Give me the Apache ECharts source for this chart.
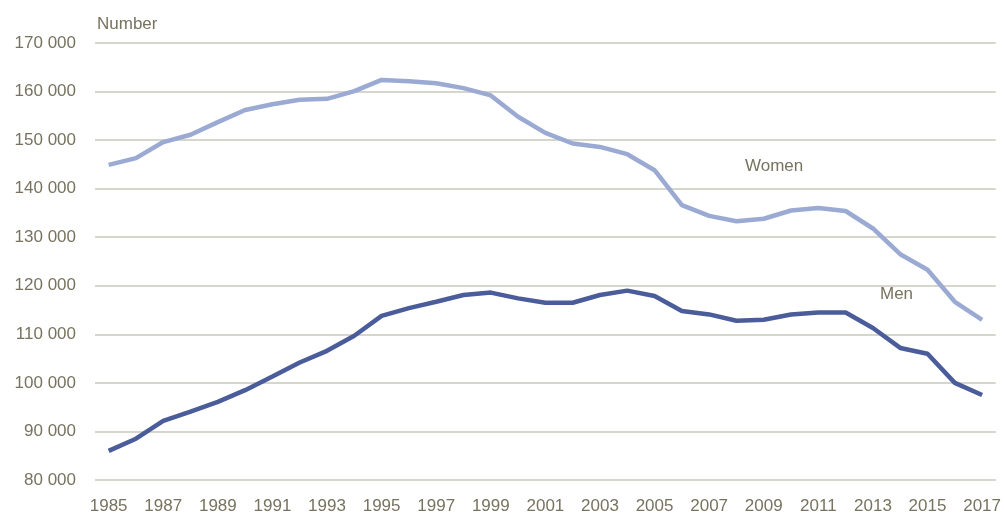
<!DOCTYPE html>
<html>
<head>
<meta charset="utf-8">
<script src="https://cdn.jsdelivr.net/npm/echarts@6/dist/echarts.min.js"></script>
<style>
  html, body { margin: 0; padding: 0; background: #fff; }
  #chart { width: 1004px; height: 515px; }
</style>
</head>
<body>
<div id="chart"></div>
<script>
var years = [];
for (var y = 1985; y <= 2017; y++) years.push(String(y));

var women = [144900, 146300, 149600, 151100, 153700, 156200, 157400, 158300, 158500, 160100,
  162400, 162100, 161700, 160700, 159200, 154800, 151500, 149300, 148600, 147100,
  143800, 136600, 134400, 133300, 133800, 135500, 136000, 135400, 131800, 126500,
  123300, 116700, 113000];

var men = [86000, 88500, 92200, 94100, 96100, 98500, 101300, 104200, 106600, 109700,
  113800, 115400, 116700, 118100, 118600, 117400, 116500, 116500, 118100, 119000,
  117900, 114800, 114100, 112800, 113000, 114100, 114500, 114500, 111300, 107200,
  106000, 100000, 97500];

var textColor = "#77735f";
var font = "Liberation Sans, Arial, sans-serif";

function fmt(v) {
  return String(v).replace(/\B(?=(\d{3})+(?!\d))/g, " ");
}

var chart = echarts.init(document.getElementById("chart"));
chart.setOption({
  animation: false,
  grid: { left: 95, right: 7, top: 43, bottom: 35 },
  xAxis: {
    type: "category",
    data: years,
    boundaryGap: true,
    axisLine: { show: false },
    axisTick: { show: false },
    axisLabel: {
      interval: 1,
      color: textColor,
      fontSize: 17,
      fontFamily: font,
      margin: 18
    }
  },
  yAxis: {
    type: "value",
    min: 80000,
    max: 170000,
    interval: 10000,
    axisLine: { show: false },
    axisTick: { show: false },
    splitLine: { lineStyle: { color: "#c9c9bb", width: 1.5 } },
    axisLabel: {
      color: textColor,
      fontSize: 17,
      fontFamily: font,
      margin: 19,
      formatter: fmt
    }
  },
  series: [
    {
      name: "Women",
      type: "line",
      data: women,
      symbol: "none",
      lineStyle: { color: "#9aaad2", width: 4.5 }
    },
    {
      name: "Men",
      type: "line",
      data: men,
      symbol: "none",
      lineStyle: { color: "#4a5c9a", width: 4.5 }
    }
  ],
  graphic: [
    { type: "text", left: 97, top: 16, style: { text: "Number", fill: textColor, font: "17px " + font } },
    { type: "text", left: 745, top: 158, style: { text: "Women", fill: textColor, font: "17px " + font } },
    { type: "text", left: 880, top: 286, style: { text: "Men", fill: textColor, font: "17px " + font } }
  ]
});
</script>
</body>
</html>
